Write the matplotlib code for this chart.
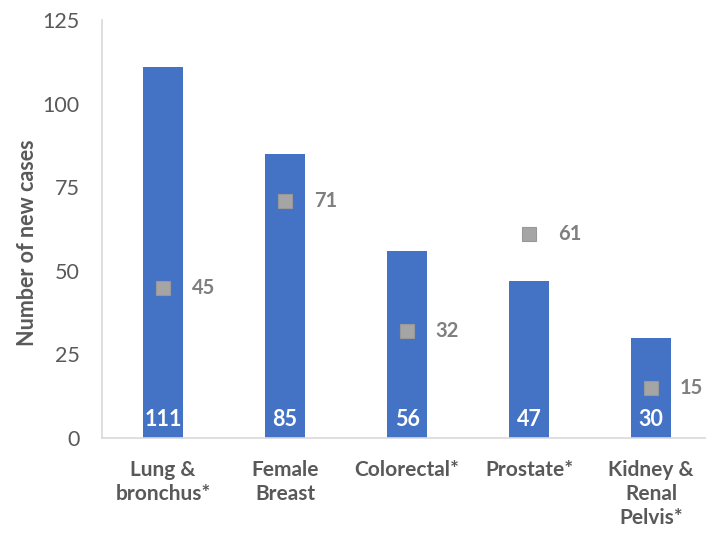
import matplotlib
matplotlib.use("Agg")
import matplotlib.pyplot as plt

categories = ["Lung &\nbronchus*", "Female\nBreast", "Colorectal*", "Prostate*", "Kidney &\nRenal\nPelvis*"]
new_cases = [111, 85, 56, 47, 30]
marker_values = [45, 71, 32, 61, 15]

plt.rcParams['font.family'] = ['Lato', 'DejaVu Sans']

bar_color = "#4472C4"
marker_color = "#A5A5A5"
text_gray = "#595959"

fig = plt.figure(figsize=(7.06, 5.34), dpi=100)
ax = fig.add_axes([0.1445, 0.1798, 0.8555, 0.782])

x = range(len(categories))
ax.bar(x, new_cases, width=0.33, color=bar_color, zorder=2)
ax.plot(x, marker_values, linestyle="none", marker="s", markersize=10,
        color=marker_color, markeredgecolor="#989898", markeredgewidth=0.8, zorder=3)

for i, v in enumerate(new_cases):
    ax.text(i, 2.5, str(v), ha="center", va="bottom", color="white",
            fontsize=15.5, fontweight="bold", zorder=4)
for i, v in enumerate(marker_values):
    ax.text(i + 0.235, v, str(v), ha="left", va="center", color="#7F7F7F",
            fontsize=14.5, fontweight="bold", zorder=4)

ax.set_xlim(-0.5, 4.45)
ax.set_ylim(0, 125)
ax.set_yticks([0, 25, 50, 75, 100, 125])
ax.set_xticks(list(x))
ax.set_xticklabels(categories, fontsize=15, fontweight="bold", color=text_gray,
                   linespacing=1.25, va="top")
ax.tick_params(axis="both", length=0)
ax.tick_params(axis="y", labelsize=15.5, labelcolor=text_gray, pad=16)
ax.tick_params(axis="x", pad=16)
ax.set_ylabel("Number of new cases", fontsize=15.5, fontweight="bold", color=text_gray)
ax.yaxis.set_label_coords(-0.106, 0.467)

for s in ["top", "right"]:
    ax.spines[s].set_visible(False)
for s in ["left", "bottom"]:
    ax.spines[s].set_color("#D9D9D9")
    ax.spines[s].set_linewidth(1.2)

fig.savefig("out.png", dpi=100)
